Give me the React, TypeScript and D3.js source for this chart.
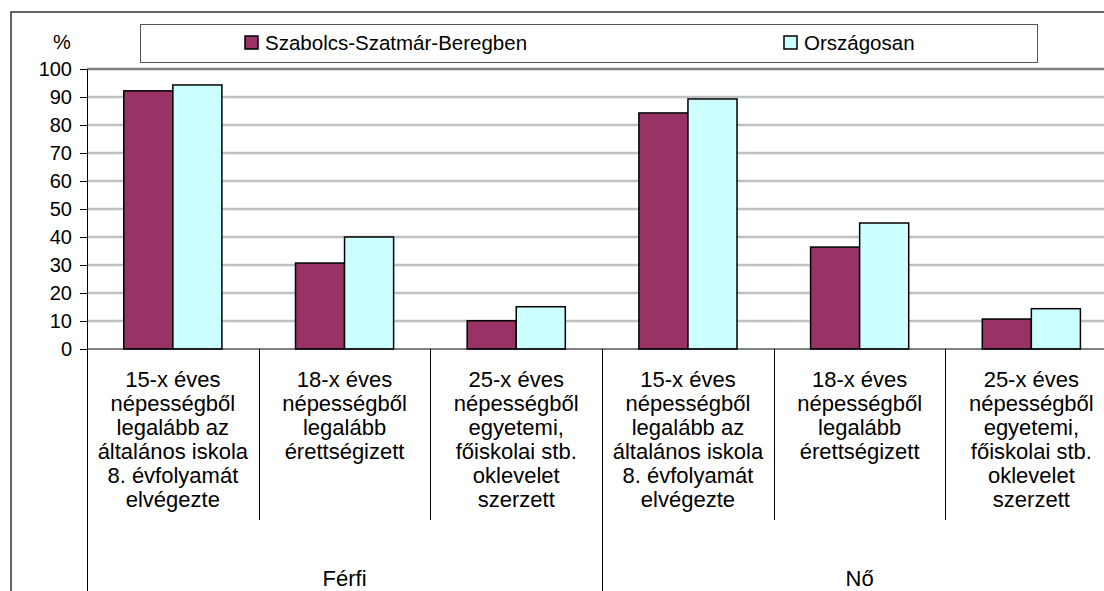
import React, { useEffect, useRef } from 'react';
import * as d3 from 'd3';

// Data
const groups = ['Férfi', 'Nő'];
const categoryLabels = [
  ['15-x éves', 'népességből', 'legalább az', 'általános iskola', '8. évfolyamát', 'elvégezte'],
  ['18-x éves', 'népességből', 'legalább', 'érettségizett'],
  ['25-x éves', 'népességből', 'egyetemi,', 'főiskolai stb.', 'oklevelet', 'szerzett'],
];
const seriesNames = ['Szabolcs-Szatmár-Beregben', 'Országosan'];
const szabolcsValues = [92.2, 30.7, 10.1, 84.3, 36.4, 10.7];
const orszagosValues = [94.3, 40.0, 15.1, 89.3, 45.0, 14.4];
const yTicks = [0, 10, 20, 30, 40, 50, 60, 70, 80, 90, 100];

const seriesColors = ['#993366', '#ccffff'];

const App = () => {
  const ref = useRef<SVGSVGElement>(null);

  useEffect(() => {
    const svgWidth = 1104;
    const svgHeight = 591;
    const font = '"Liberation Sans", Arial, sans-serif';
    const fontSize = 20;
    const labelFontSize = 22;

    const plotLeft = 87;
    const plotTop = 69;
    const plotBottom = 349;
    const catWidth = 171.7;

    const svg = d3.select(ref.current);
    svg.selectAll('*').remove();
    svg.attr('width', svgWidth).attr('height', svgHeight);

    // Background + chart border
    svg.append('rect')
      .attr('width', svgWidth).attr('height', svgHeight)
      .attr('fill', 'white');
    svg.append('rect')
      .attr('x', 11).attr('y', 12)
      .attr('width', svgWidth + 20).attr('height', svgHeight + 20)
      .attr('fill', 'none')
      .attr('stroke', '#333')
      .attr('stroke-width', 1.5);

    // Categories: group x category
    const cats: { group: string; idx: number; key: string }[] = [];
    groups.forEach(g => categoryLabels.forEach((_, i) => cats.push({ group: g, idx: i, key: `${g}-${i}` })));

    const x = d3.scaleBand<string>()
      .domain(cats.map(c => c.key))
      .range([plotLeft, plotLeft + catWidth * cats.length]);

    const xInner = d3.scaleBand<string>()
      .domain(seriesNames)
      .range([0, x.bandwidth()])
      .paddingInner(0)
      .paddingOuter(0.75);

    const y = d3.scaleLinear()
      .domain([0, 100])
      .range([plotBottom, plotTop]);

    // Gridlines
    svg.append('g')
      .selectAll('line')
      .data(yTicks.filter(t => t > 0))
      .enter()
        .append('line')
        .attr('x1', plotLeft).attr('x2', svgWidth + 20)
        .attr('y1', d => y(d)).attr('y2', d => y(d))
        .attr('stroke', d => (d === 100 ? '#808080' : '#c0c0c0'))
        .attr('stroke-width', 2.5);

    // Bars
    const allValues = [szabolcsValues, orszagosValues];
    seriesNames.forEach((name, s) => {
      svg.append('g')
        .selectAll('rect')
        .data(cats)
        .enter()
          .append('rect')
          .attr('x', (c) => (x(c.key) as number) + (xInner(name) as number))
          .attr('y', (_, i) => y(allValues[s][i]))
          .attr('width', xInner.bandwidth())
          .attr('height', (_, i) => plotBottom - y(allValues[s][i]))
          .attr('fill', seriesColors[s])
          .attr('stroke', 'black')
          .attr('stroke-width', 1.5);
    });

    // Y axis
    const yAxis = svg.append('g')
      .attr('transform', `translate(${plotLeft}, 0)`)
      .call(d3.axisLeft(y).tickValues(yTicks).tickSize(7).tickPadding(8));
    yAxis.select('.domain').attr('stroke', 'black');
    yAxis.selectAll('text')
      .attr('font-family', font)
      .attr('font-size', fontSize)
      .attr('fill', 'black');

    svg.append('text')
      .text('%')
      .attr('x', 62).attr('y', 49)
      .attr('text-anchor', 'middle')
      .attr('font-family', font)
      .attr('font-size', fontSize);

    // X axis line
    svg.append('line')
      .attr('x1', plotLeft).attr('x2', svgWidth + 20)
      .attr('y1', plotBottom).attr('y2', plotBottom)
      .attr('stroke', 'black');

    // Category separators
    const sepBottom = 520;
    svg.append('g')
      .selectAll('line')
      .data(cats)
      .enter()
        .append('line')
        .attr('x1', c => Math.round(x(c.key) as number) + 0.5)
        .attr('x2', c => Math.round(x(c.key) as number) + 0.5)
        .attr('y1', plotBottom)
        .attr('y2', c => (c.idx === 0 ? svgHeight : sepBottom))
        .attr('stroke', 'black');

    // Category labels
    const lineHeight = 24;
    const labelTop = 387;
    cats.forEach(c => {
      const cx = (x(c.key) as number) + x.bandwidth() / 2;
      const t = svg.append('text')
        .attr('text-anchor', 'middle')
        .attr('font-family', font)
        .attr('font-size', labelFontSize);
      categoryLabels[c.idx].forEach((line, li) => {
        t.append('tspan')
          .attr('x', cx)
          .attr('y', labelTop + li * lineHeight)
          .text(line);
      });
    });

    // Group labels
    groups.forEach(g => {
      const first = x(`${g}-0`) as number;
      const cx = first + (catWidth * categoryLabels.length) / 2;
      svg.append('text')
        .text(g)
        .attr('x', cx).attr('y', 586)
        .attr('text-anchor', 'middle')
        .attr('font-family', font)
        .attr('font-size', labelFontSize);
    });

    // Legend
    const legend = svg.append('g');
    legend.append('rect')
      .attr('x', 140.5).attr('y', 24.5)
      .attr('width', 897).attr('height', 38)
      .attr('fill', 'white')
      .attr('stroke', '#555')
      .attr('stroke-width', 1);
    const legendX = [245, 784];
    seriesNames.forEach((name, s) => {
      legend.append('rect')
        .attr('x', legendX[s]).attr('y', 36)
        .attr('width', 13).attr('height', 13)
        .attr('fill', seriesColors[s])
        .attr('stroke', 'black')
        .attr('stroke-width', 1.5);
      legend.append('text')
        .text(name)
        .attr('x', legendX[s] + 20).attr('y', 50)
        .attr('font-family', font)
        .attr('font-size', 20.5);
    });
  }, []);

  return <svg ref={ref} style={{ position: 'absolute', left: 0, top: 0, display: 'block' }} />;
};

export default App;
